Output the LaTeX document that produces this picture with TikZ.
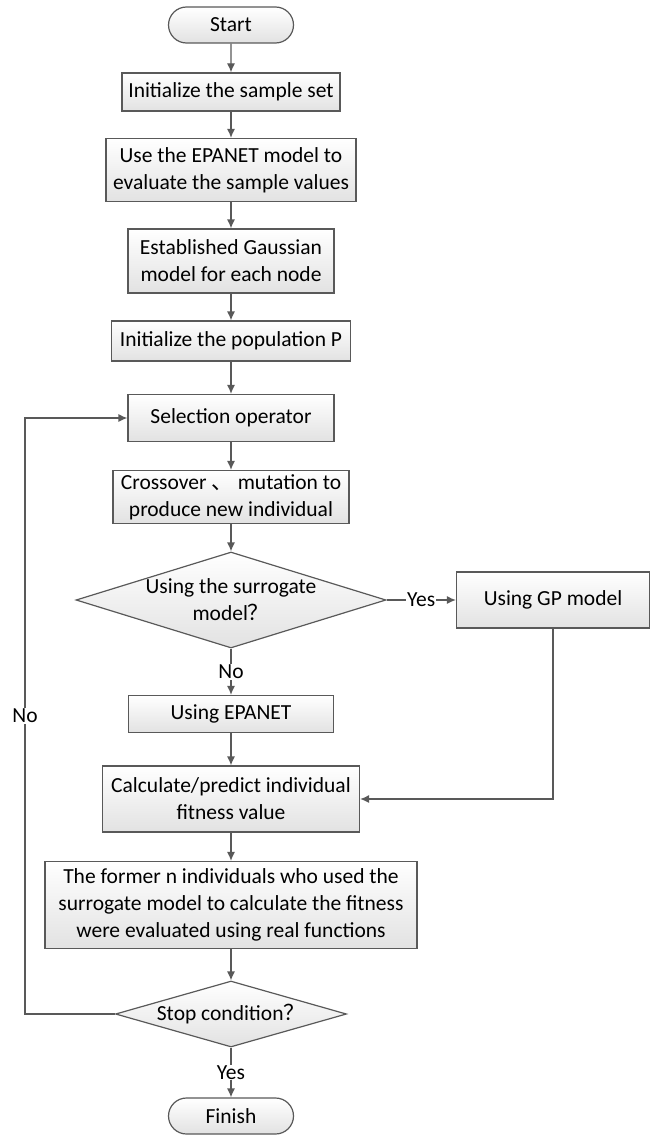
\documentclass[tikz,border=0pt]{standalone}
\usepackage{fontspec}
\setmainfont{Carlito}
\newfontfamily\cjkfont{Noto Sans CJK SC}
\usetikzlibrary{shapes.geometric,shapes.misc,arrows.meta}
\definecolor{linegray}{HTML}{595959}
\definecolor{boxgray}{HTML}{E2E2E2}
\newcommand{\boxfont}{\fontsize{21.5}{27}\selectfont}
\begin{document}
\begin{tikzpicture}[x=1pt,y=-1pt,
  proc/.style={draw=linegray,line width=1.2pt,top color=white,bottom color=boxgray,
    align=center,inner sep=2pt,font=\boxfont},
  term/.style={proc,rounded rectangle,minimum width=129pt,minimum height=36pt},
  decide/.style={proc,diamond,inner sep=0pt},
  dtext/.style={align=center,font=\boxfont,inner sep=0pt},
  flow/.style={->,>={Latex[length=9pt,width=8pt]},draw=linegray,line width=1.2pt},
  lbl/.style={fill=white,inner sep=1pt,font=\boxfont}]
\useasboundingbox (0,0) rectangle (653,1137);
\node[term] (start) at (231,25) {Start};
\node[proc,minimum width=218pt,minimum height=38pt] (init) at (231,92) {Initialize the sample set};
\node[proc,minimum width=250pt,minimum height=63pt] (eval) at (231,170) {Use the EPANET model to\\evaluate the sample values};
\node[proc,minimum width=206pt,minimum height=64pt] (gauss) at (231,261) {Established Gaussian\\model for each node};
\node[proc,minimum width=239pt,minimum height=40pt] (pop) at (231,341) {Initialize the population P};
\node[proc,minimum width=206pt,minimum height=47pt] (select) at (231,418) {Selection operator};
\node[proc,minimum width=236pt,minimum height=53pt] (cross) at (231,497) {Crossover {\cjkfont 、} mutation to\\produce new individual};
\node[decide,minimum width=310pt,minimum height=96pt,
  label={[dtext]center:{Using the surrogate\\model{\cjkfont ？}}}] (surr) at (231,600) {};
\node[proc,minimum width=193pt,minimum height=56pt] (gp) at (553,600) {Using GP model};
\node[proc,minimum width=205pt,minimum height=37pt] (epanet) at (231,714) {Using EPANET};
\node[proc,minimum width=257pt,minimum height=66pt] (calc) at (231,799) {Calculate/predict individual\\fitness value};
\node[proc,minimum width=372pt,minimum height=87pt] (real) at (231,905) {The former n individuals who used the\\surrogate model to calculate the fitness\\were evaluated using real functions};
\node[decide,minimum width=231pt,minimum height=66pt,
  label={[dtext]center:{Stop condition{\cjkfont ？}}}] (stop) at (231,1014) {};
\node[term] (finish) at (231,1116) {Finish};
\coordinate (loop) at (25,0);
% main column
\draw[flow] (start) -- (init);
\draw[flow] (init) -- (eval);
\draw[flow] (eval) -- (gauss);
\draw[flow] (gauss) -- (pop);
\draw[flow] (pop) -- (select);
\draw[flow] (select) -- (cross);
\draw[flow] (cross) -- (surr);
\draw[flow] (surr.east) -- node[lbl]{Yes} (gp.west);
\draw[flow] (surr.south) -- node[lbl]{No} (epanet.north);
\draw[flow] (epanet) -- (calc);
\draw[flow] (gp.south) |- (calc.east);
\draw[flow] (calc) -- (real);
\draw[flow] (real) -- (stop);
\draw[flow] (stop.south) -- node[lbl]{Yes} (finish.north);
% back to selection
\draw[flow] (stop.west) -- (stop.west -| loop) -- node[lbl]{No} (select.west -| loop) -- (select.west);
\end{tikzpicture}
\end{document}
